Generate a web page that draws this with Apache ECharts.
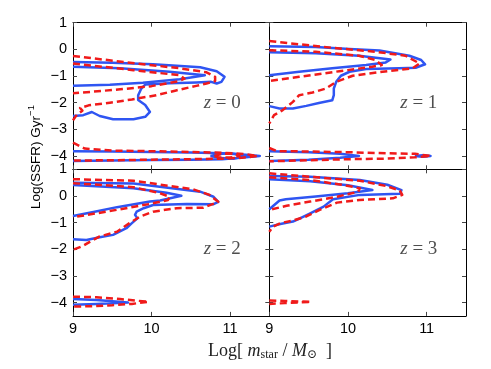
<!DOCTYPE html>
<html>
<head>
<meta charset="utf-8">
<script src="https://cdn.jsdelivr.net/npm/echarts@6/dist/echarts.min.js"></script>
<style>
  html, body { margin: 0; padding: 0; background: #fff; }
  #chart { width: 491px; height: 369px; }
</style>
</head>
<body>
<div id="chart"></div>
<script>
// contour lines, [log mstar, log SSFR]
// z = 0
const blueZ0Outer = [[9,-0.47],[9.5,-0.5],[10.02,-0.56],[10.62,-0.67],[10.83,-0.82],[10.93,-1.03],[10.89,-1.22],[10.83,-1.28],[10.76,-1.22],[10.57,-1.24],[10.23,-1.27],[9.92,-1.32],[9.87,-1.47],[9.83,-1.72],[9.83,-1.9],[9.92,-2.09],[9.98,-2.35],[9.92,-2.53],[9.77,-2.62],[9.51,-2.62],[9.34,-2.5],[9.24,-2.35],[9.13,-2.47],[9,-2.5]]
const blueZ0Inner = [[9,-0.65],[9.6,-0.71],[10.23,-0.84],[10.68,-0.97],[10.36,-1.12],[9.89,-1.25],[9.47,-1.33],[9,-1.37]]
const blueZ0Quiet = [[9,-3.82],[9.5,-3.83],[10,-3.85],[10.5,-3.87],[10.9,-3.9],[11.2,-3.95],[11.38,-4.0],[11.2,-4.05],[10.9,-4.12],[10.5,-4.14],[10,-4.15],[9.5,-4.17],[9,-4.19]]
const blueZ0QuietCore = [[10.75,-4.0],[10.85,-3.93],[11.0,-3.9],[11.15,-3.95],[11.18,-4.02],[11.05,-4.1],[10.88,-4.08],[10.75,-4.0]]
const redZ0Outer = [[9,-0.25],[9.81,-0.53],[10.36,-0.71],[10.7,-0.86],[10.81,-1.03],[10.81,-1.19],[10.7,-1.28],[10.57,-1.37],[10.3,-1.55],[10.06,-1.72],[9.75,-1.88],[9.47,-2.0],[9.2,-2.1],[9.09,-2.2],[9.12,-2.3],[9.05,-2.45],[9,-2.66]]
const redZ0Inner = [[9,-0.53],[9.77,-0.78],[10.2,-0.92],[10.36,-0.97],[10.42,-1.1],[10.34,-1.2],[10.0,-1.38],[9.6,-1.5],[9,-1.65]]
const redZ0Quiet = [[9,-3.5],[9.15,-3.72],[9.5,-3.8],[10,-3.82],[10.5,-3.85],[10.9,-3.88],[11.2,-3.93],[11.35,-4.0],[11.15,-4.07],[10.9,-4.1],[10.5,-4.12],[10,-4.14],[9.5,-4.16],[9,-4.17]]
const redZ0QuietCore = [[10.8,-4.0],[10.9,-3.92],[11.05,-3.92],[11.12,-4.0],[11.0,-4.06],[10.85,-4.05],[10.8,-4.0]]
// z = 1
const blueZ1Outer = [[9,0.12],[9.59,0.09],[10.02,0.01],[10.4,-0.04],[10.78,-0.24],[10.93,-0.4],[10.98,-0.56],[10.86,-0.69],[10.65,-0.71],[10.23,-0.74],[10.02,-0.84],[9.91,-0.99],[9.85,-1.22],[9.82,-1.47],[9.82,-1.72],[9.8,-1.91],[9.63,-2.01],[9.47,-2.12],[9.3,-2.22],[9.13,-2.22],[9,-2.13]]
const blueZ1Inner = [[9,-0.11],[9.59,-0.15],[10.14,-0.24],[10.54,-0.38],[10.48,-0.49],[10.23,-0.59],[9.8,-0.71],[9.38,-0.84],[9,-0.97]]
const blueZ1Quiet = [[9,-3.82],[9.5,-3.86],[9.9,-3.92],[10.14,-4.0],[9.9,-4.07],[9.5,-4.14],[9,-4.19]]
const blueZ1QuietCore = [[10.85,-4.0],[10.95,-3.97],[11.05,-4.0],[10.95,-4.03],[10.85,-4.0]]
const redZ1Outer = [[9,0.31],[9.8,0.06],[10.35,-0.09],[10.73,-0.24],[10.91,-0.53],[10.82,-0.71],[10.44,-0.84],[10.06,-0.99],[9.85,-1.22],[9.72,-1.47],[9.55,-1.62],[9.38,-1.72],[9.3,-1.97],[9.17,-2.28],[9.06,-2.47],[9,-2.78]]
const redZ1Inner = [[9,-0.03],[9.59,-0.09],[10.14,-0.24],[10.35,-0.4],[10.43,-0.59],[10.31,-0.65],[9.89,-0.82],[9.38,-1.03],[9,-1.19]]
const redZ1Quiet = [[9,-3.7],[9.1,-3.82],[9.5,-3.83],[10,-3.86],[10.5,-3.9],[10.85,-3.92],[11.05,-4.0],[10.85,-4.05],[10.5,-4.1],[10,-4.12],[9.5,-4.16],[9,-4.2]]
// z = 2
const blueZ2Outer = [[9,0.5],[9.77,0.47],[10.62,0.16],[10.79,-0.03],[10.85,-0.22],[10.79,-0.31],[10.45,-0.3],[10.02,-0.34],[9.9,-0.46],[9.81,-0.59],[9.79,-0.71],[9.82,-0.84],[9.75,-1.02],[9.68,-1.21],[9.51,-1.46],[9.34,-1.55],[9.17,-1.65],[9,-1.62]]
const blueZ2Inner = [[9,0.41],[9.77,0.29],[10.19,0.12],[10.38,0.01],[10.11,-0.17],[9.98,-0.21],[9.56,-0.42],[9.26,-0.6],[9,-0.75]]
const blueZ2Quiet = [[9,-3.87],[9.3,-3.9],[9.7,-4.0],[9.3,-4.05],[9,-4.08]]
const redZ2Outer = [[9,0.63],[9.77,0.57],[10.53,0.25],[10.74,0.04],[10.85,-0.22],[10.66,-0.44],[10.32,-0.46],[10.02,-0.59],[9.85,-0.78],[9.72,-1.02],[9.56,-1.34],[9.34,-1.52],[9.22,-1.71],[9.13,-1.87],[9,-2.02]]
const redZ2Inner = [[9,0.48],[9.77,0.33],[10.11,0.1],[10.23,-0.03],[10.21,-0.15],[9.98,-0.3],[9.56,-0.52],[9.26,-0.67],[9,-0.8]]
const redZ2Quiet = [[9,-3.78],[9.3,-3.8],[9.6,-3.87],[9.96,-3.97],[9.75,-4.05],[9.5,-4.1],[9.2,-4.14],[9,-4.15]]
// z = 3
const blueZ3Outer = [[9,0.75],[9.52,0.72],[10.15,0.6],[10.5,0.42],[10.68,0.22],[10.66,0.08],[10.15,0.04],[9.81,-0.12],[9.69,-0.4],[9.52,-0.65],[9.37,-0.87],[9.3,-0.96],[9.14,-1.05],[9,-1.15]]
const blueZ3Inner = [[9,0.63],[9.52,0.55],[10.0,0.4],[10.31,0.22],[10.0,0.1],[9.59,-0.02],[9.21,-0.12],[9.13,-0.17],[9,-0.5]]
const redZ3Outer = [[9,0.85],[9.52,0.72],[10.15,0.57],[10.49,0.37],[10.66,0.2],[10.69,0.04],[10.57,-0.09],[10.15,-0.15],[9.86,-0.25],[9.64,-0.52],[9.47,-0.77],[9.3,-0.92],[9.14,-1.02],[9.05,-1.15],[9,-1.34]]
const redZ3Inner = [[9,0.7],[9.52,0.6],[9.94,0.41],[10.15,0.29],[10.13,0.16],[9.86,-0.03],[9.52,-0.21],[9.22,-0.37],[9,-0.52]]
const redZ3Quiet = [[9,-3.92],[9.2,-3.94],[9.53,-3.97],[9.2,-4.02],[9,-4.05]]

const redshifts = ['0', '1', '2', '3']
const xTicks = [9, 10, 11]
const yTicks = [-4, -3, -2, -1, 0, 1]

const panels = [
  {blue: [blueZ0Outer, blueZ0Inner, blueZ0Quiet, blueZ0QuietCore], red: [redZ0Outer, redZ0Inner, redZ0Quiet, redZ0QuietCore]},
  {blue: [blueZ1Outer, blueZ1Inner, blueZ1Quiet, blueZ1QuietCore], red: [redZ1Outer, redZ1Inner, redZ1Quiet]},
  {blue: [blueZ2Outer, blueZ2Inner, blueZ2Quiet], red: [redZ2Outer, redZ2Inner, redZ2Quiet]},
  {blue: [blueZ3Outer, blueZ3Inner], red: [redZ3Outer, redZ3Inner, redZ3Quiet]}
]

const BLUE = '#2f55f2'
const RED = '#f01a1a'
const boxes = [
  {left: 73, top: 22.7, width: 196.3, height: 146.6},
  {left: 269.3, top: 22.7, width: 196.7, height: 146.6},
  {left: 73, top: 169.3, width: 196.3, height: 146.6},
  {left: 269.3, top: 169.3, width: 196.7, height: 146.6}
]

let chart = echarts.init(document.getElementById('chart'), null, {renderer: 'canvas'})

let grids = [], xAxes = [], yAxes = [], series = []
boxes.forEach((b, i) => {
  grids.push(Object.assign({containLabel: false}, b))
  for (let pos of ['bottom', 'top']) {
    xAxes.push({
      gridIndex: i, type: 'value', position: pos, min: 9, max: 11.5,
      axisLine: {show: true, onZero: false, lineStyle: {color: '#000', width: 1}},
      axisTick: {show: true, inside: true, length: 4, customValues: xTicks, lineStyle: {color: '#444'}},
      axisLabel: {show: pos === 'bottom' && i >= 2, customValues: xTicks, color: '#000',
        fontSize: 14.5, fontFamily: 'Liberation Sans', margin: 6},
      splitLine: {show: false}
    })
  }
  for (let pos of ['left', 'right']) {
    yAxes.push({
      gridIndex: i, type: 'value', position: pos, min: -4.5, max: 1,
      axisLine: {show: true, onZero: false, lineStyle: {color: '#000', width: 1}},
      axisTick: {show: true, inside: true, length: 4, customValues: yTicks, lineStyle: {color: '#444'}},
      axisLabel: {show: pos === 'left' && i % 2 === 0, customValues: yTicks, color: '#000',
        fontSize: 14.5, fontFamily: 'Liberation Sans', margin: 6,
        formatter: v => String(v).replace('-', '\u2212')},
      splitLine: {show: false}
    })
  }
  const lineOf = (data, color, dashed) => ({
    type: 'line', xAxisIndex: 2 * i, yAxisIndex: 2 * i, data: data,
    symbol: 'none', silent: true, animation: false, clip: true,
    lineStyle: {color: color, width: 2.5, type: dashed ? [7, 4] : 'solid', cap: 'butt', join: 'round'}
  })
  panels[i].blue.forEach(d => series.push(lineOf(d, BLUE, false)))
  panels[i].red.forEach(d => series.push(lineOf(d, RED, true)))
  // redshift tag
  series.push({
    type: 'scatter', xAxisIndex: 2 * i, yAxisIndex: 2 * i, data: [[10.9, -2.0]],
    symbolSize: 0.1, itemStyle: {color: 'transparent'}, silent: true, animation: false,
    label: {
      show: true, position: 'inside', formatter: '{it|z}{rm| = ' + redshifts[i] + '}',
      rich: {
        it: {fontFamily: 'Liberation Serif', fontStyle: 'italic', fontSize: 19, color: '#222'},
        rm: {fontFamily: 'Liberation Serif', fontSize: 19, color: '#222'}
      }
    }
  })
})

let option = {
  backgroundColor: '#fff',
  animation: false,
  grid: grids,
  xAxis: xAxes,
  yAxis: yAxes,
  series: series,
  graphic: [
    {
      type: 'text', x: 36, y: 157, rotation: Math.PI / 2,
      style: {
        text: '{b|Log(SSFR) Gyr}{s|\u22121}', align: 'center', verticalAlign: 'middle',
        rich: {
          b: {fontFamily: 'Liberation Sans', fontSize: 13.5, fill: '#000'},
          s: {fontFamily: 'Liberation Sans', fontSize: 9.5, fill: '#000', padding: [0, 0, 9, 0]}
        }
      }
    },
    {
      type: 'text', x: 270, y: 351,
      style: {
        text: '{r|Log[ }{i|m}{sub|star}{r| / }{i|M}{sub|\u2299}{r|  ]}', align: 'center', verticalAlign: 'middle',
        rich: {
          r: {fontFamily: 'Liberation Serif', fontSize: 18, fill: '#222'},
          i: {fontFamily: 'Liberation Serif', fontStyle: 'italic', fontSize: 18, fill: '#222'},
          sub: {fontFamily: 'Liberation Serif, DejaVu Serif', fontSize: 12, fill: '#222', padding: [8, 0, 0, 0]}
        }
      }
    }
  ]
}

chart.setOption(option)
</script>
</body>
</html>
